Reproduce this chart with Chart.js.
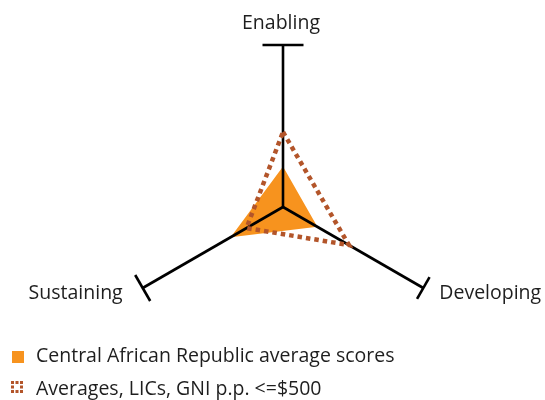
<!DOCTYPE html>
<html>
<head>
<meta charset="utf-8">
<script src="https://cdn.jsdelivr.net/npm/chart.js@4"></script>
<style>
html,body{margin:0;padding:0;background:#fff;}
#wrap{position:relative;width:545px;height:400px;}
</style>
</head>
<body>
<div id="wrap"><canvas id="c"></canvas></div>
<script>
const categories = ['Enabling', 'Developing', 'Sustaining'];
const countryLabel = 'Central African Republic average scores';
const countryScores = [0.25, 0.245, 0.373];
const benchmarkLabel = 'Averages, LICs, GNI p.p. <=$500';
const benchmarkScores = [0.463, 0.47, 0.26];

const FONT = '"Open Sans", "Noto Sans", sans-serif';
const TEXT = '#1e1e1e';
const ORANGE = '#f7931e';
const BROWN = '#b3552a';
const capLen = [41, 25, 30];

const axesPlugin = {
  id: 'axesPlugin',
  beforeDatasetDraw(chart, args) {
    if (args.index !== 0) return;
    const s = chart.scales.r;
    const ctx = chart.ctx;
    ctx.save();
    ctx.strokeStyle = '#000';
    ctx.lineWidth = 2.6;
    ctx.lineCap = 'butt';
    for (let i = 0; i < categories.length; i++) {
      const end = s.getPointPosition(i, s.drawingArea);
      ctx.beginPath();
      ctx.moveTo(s.xCenter, s.yCenter);
      ctx.lineTo(end.x, end.y);
      ctx.stroke();
      const a = end.angle;
      const px = -Math.sin(a), py = Math.cos(a);
      const h = capLen[i] / 2;
      ctx.beginPath();
      ctx.moveTo(end.x - px * h, end.y - py * h);
      ctx.lineTo(end.x + px * h, end.y + py * h);
      ctx.stroke();
    }
    ctx.restore();
  },
  afterDraw(chart) {
    const s = chart.scales.r;
    const ctx = chart.ctx;
    ctx.save();
    ctx.fillStyle = TEXT;
    ctx.font = '19.5px ' + FONT;
    ctx.textBaseline = 'middle';
    // axis labels
    const top = s.getPointPosition(0, s.drawingArea);
    ctx.textAlign = 'center';
    ctx.fillText(categories[0], top.x - 2, top.y - 22);
    const dev = s.getPointPosition(1, s.drawingArea);
    ctx.textAlign = 'left';
    ctx.fillText(categories[1], dev.x + 16, dev.y + 5);
    const sus = s.getPointPosition(2, s.drawingArea);
    ctx.textAlign = 'right';
    ctx.fillText(categories[2], sus.x - 20, sus.y + 5);
    // legend
    ctx.textAlign = 'left';
    ctx.fillStyle = ORANGE;
    ctx.fillRect(12, 351, 12, 12);
    ctx.fillStyle = TEXT;
    ctx.fillText(countryLabel, 36, 356);
    ctx.fillStyle = BROWN;
    const dots = [[0,0],[4.5,0],[9,0],[0,4.5],[9,4.5],[0,9],[4.5,9],[9,9]];
    dots.forEach(d => ctx.fillRect(11 + d[0], 381 + d[1], 3, 3));
    ctx.fillStyle = TEXT;
    ctx.fillText(benchmarkLabel, 36, 389);
    ctx.restore();
  }
};

new Chart(document.getElementById('c'), {
  type: 'radar',
  data: {
    labels: categories,
    datasets: [
      {
        label: benchmarkLabel,
        data: benchmarkScores,
        fill: false,
        borderColor: BROWN,
        borderWidth: 4.5,
        borderDash: [4.5, 4],
        borderCapStyle: 'butt',
        pointRadius: 0,
        tension: 0
      },
      {
        label: countryLabel,
        data: countryScores,
        fill: true,
        backgroundColor: ORANGE,
        borderWidth: 0,
        pointRadius: 0,
        tension: 0
      }
    ]
  },
  options: {
    responsive: true,
    maintainAspectRatio: false,
    animation: false,
    layout: { padding: { left: 121, right: 100, top: 45, bottom: 31 } },
    plugins: { legend: { display: false }, tooltip: { enabled: false } },
    scales: {
      r: {
        min: 0,
        max: 1,
        grid: { display: false },
        angleLines: { display: false },
        ticks: { display: false },
        pointLabels: { display: false }
      }
    }
  },
  plugins: [axesPlugin]
});
</script>
</body>
</html>
